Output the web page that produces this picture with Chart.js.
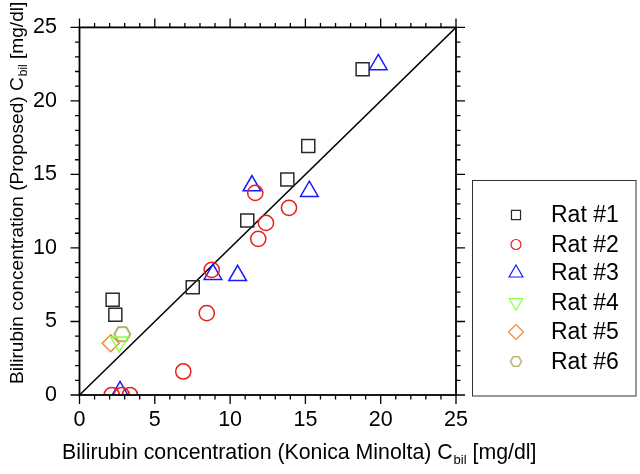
<!DOCTYPE html>
<html><head><meta charset="utf-8">
<script src="https://cdn.jsdelivr.net/npm/chart.js@4.4.1/dist/chart.umd.min.js"></script>
<style>html,body{margin:0;padding:0;background:#fff}#wrap{width:640px;height:474px}</style>
</head><body><div id="wrap"><canvas id="c" width="640" height="474"></canvas></div>
<script>
// ---- data ----
const seriesNames = ['Rat #1', 'Rat #2', 'Rat #3', 'Rat #4', 'Rat #5', 'Rat #6'];
const rat1X = [18.8, 15.19, 13.8, 11.14, 7.52, 2.2, 2.38];
const rat1Y = [22.16, 16.93, 14.66, 11.87, 7.32, 6.48, 5.46];
const rat2X = [11.67, 13.91, 12.38, 11.87, 8.78, 8.45, 6.89, 2.14, 2.8, 3.35];
const rat2Y = [13.74, 12.73, 11.7, 10.62, 8.51, 5.57, 1.6, 0, 0, 0];
const rat3X = [19.84, 15.26, 11.45, 8.86, 10.5, 2.69];
const rat3Y = [22.47, 13.85, 14.23, 8.21, 8.13, 0.23];
const rat4X = [2.64];
const rat4Y = [3.6];
const rat5X = [2.07];
const rat5Y = [3.52];
const rat6X = [2.84];
const rat6Y = [4.14];
const diagX = [0, 25];
const diagY = [0, 25];
const majorTicks = [0, 5, 10, 15, 20, 25];
const minorTicks = [1,2,3,4,6,7,8,9,11,12,13,14,16,17,18,19,21,22,23,24];
const xTitleMain = 'Bilirubin concentration (Konica Minolta) C';
const yTitleMain = 'Bilirubin concentration (Proposed) C';
const titleSub = 'bil';
const titleTail = ' [mg/dl]';

const FONT = '"Liberation Sans", Arial, sans-serif';
const pts = (xs, ys) => xs.map((x, i) => ({x, y: ys[i]}));

function makeHex(r, color, lw) {
  const s = Math.ceil(2 * r + lw + 2);
  const cv = document.createElement('canvas');
  cv.width = s; cv.height = s;
  const g = cv.getContext('2d');
  g.strokeStyle = color; g.lineWidth = lw;
  g.beginPath();
  for (let k = 0; k < 6; k++) {
    const a = Math.PI / 3 * k;
    const px = s / 2 + r * Math.cos(a), py = s / 2 + r * Math.sin(a);
    k ? g.lineTo(px, py) : g.moveTo(px, py);
  }
  g.closePath(); g.stroke();
  return cv;
}
const hexBig = makeHex(8, '#9a9a3c', 1.5);
const hexSmall = makeHex(5.5, '#9a9a3c', 1.2);

const styles = [
  {color: '#2a2a2a', pointStyle: 'rect', radius: 9.2, rotation: 0, legR: 6.4},
  {color: '#e8201c', pointStyle: 'circle', radius: 7.6, rotation: 0, legR: 5},
  {color: '#1a1aff', pointStyle: 'triangle', radius: 10.2, rotation: 0, legR: 8},
  {color: '#88ff44', pointStyle: 'triangle', radius: 10, rotation: 180, legR: 7.8},
  {color: '#f08a30', pointStyle: 'rectRot', radius: 8.5, rotation: 0, legR: 7.5},
  {color: '#9a9a3c', pointStyle: hexBig, radius: 8, rotation: 0, legR: 5.5, legStyle: hexSmall},
];
const seriesData = [pts(rat1X, rat1Y), pts(rat2X, rat2Y), pts(rat3X, rat3Y), pts(rat4X, rat4Y), pts(rat5X, rat5Y), pts(rat6X, rat6Y)];

const datasets = seriesData.map((d, i) => ({
  label: seriesNames[i],
  data: d,
  showLine: false,
  pointStyle: styles[i].pointStyle,
  pointRadius: styles[i].radius,
  pointRotation: styles[i].rotation,
  pointBorderColor: styles[i].color,
  pointBackgroundColor: 'rgba(0,0,0,0)',
  pointBorderWidth: 1.5,
  pointHoverRadius: styles[i].radius,
  clip: 0,
  order: 1,
}));
datasets.push({
  label: 'y=x',
  data: pts(diagX, diagY),
  showLine: true,
  borderColor: '#000',
  borderWidth: 1.5,
  pointRadius: 0,
  clip: 0,
  order: 2,
});

function drawRich(ctx, x, y, size, main) {
  ctx.font = size + 'px ' + FONT;
  ctx.fillText(main, x, y);
  let w = ctx.measureText(main).width;
  ctx.font = Math.round(size * 0.62) + 'px ' + FONT;
  ctx.fillText(titleSub, x + w + 1, y + size * 0.22);
  w += 1 + ctx.measureText(titleSub).width;
  ctx.font = size + 'px ' + FONT;
  ctx.fillText(titleTail, x + w, y);
  return w + ctx.measureText(titleTail).width;
}

const framePlugin = {
  id: 'frame',
  afterDatasetsDraw(chart) {
    const {ctx, chartArea: a, scales} = chart;
    const xs = scales.x, ys = scales.y;
    ctx.save();
    ctx.strokeStyle = '#000';
    ctx.lineWidth = 1.8;
    ctx.strokeRect(a.left, a.top, a.right - a.left, a.bottom - a.top);
    ctx.lineWidth = 1.3;
    ctx.beginPath();
    const tick = (v, len) => {
      const px = xs.getPixelForValue(v), py = ys.getPixelForValue(v);
      ctx.moveTo(px, a.bottom); ctx.lineTo(px, a.bottom + len);
      ctx.moveTo(px, a.top); ctx.lineTo(px, a.top - len);
      ctx.moveTo(a.left, py); ctx.lineTo(a.left - len, py);
      ctx.moveTo(a.right, py); ctx.lineTo(a.right + len, py);
    };
    majorTicks.forEach(v => tick(v, 9));
    minorTicks.forEach(v => tick(v, 4.5));
    ctx.stroke();

    // axis titles
    ctx.fillStyle = '#000';
    ctx.textBaseline = 'alphabetic';
    ctx.textAlign = 'left';
    drawRich(ctx, 62, 459, 21.3, xTitleMain);
    ctx.translate(23, 384);
    ctx.rotate(-Math.PI / 2);
    drawRich(ctx, 0, 0, 19.1, yTitleMain);
    ctx.restore();

    // legend
    ctx.save();
    ctx.strokeStyle = '#333';
    ctx.lineWidth = 1;
    ctx.strokeRect(472.5, 180.5, 163.5, 215.5);
    const rowY = [215, 244.5, 273, 302.5, 332, 361.5];
    ctx.font = '23px ' + FONT;
    ctx.fillStyle = '#000';
    ctx.textBaseline = 'middle';
    seriesNames.forEach((n, i) => {
      const s = styles[i];
      ctx.strokeStyle = s.color;
      ctx.fillStyle = 'rgba(0,0,0,0)';
      ctx.lineWidth = 1.2;
      Chart.helpers.drawPoint(ctx, {pointStyle: s.legStyle || s.pointStyle, radius: s.legR, rotation: s.rotation, borderWidth: 1.2}, 516, rowY[i]);
      ctx.fillStyle = '#000';
      ctx.fillText(n, 551, rowY[i] + 1);
    });
    ctx.restore();
  }
};

new Chart(document.getElementById('c'), {
  type: 'scatter',
  data: {datasets},
  options: {
    responsive: false,
    animation: false,
    devicePixelRatio: 1,
    layout: {padding: {left: 0, top: 16, right: 184, bottom: 0}},
    plugins: {legend: {display: false}, tooltip: {enabled: false}},
    scales: {
      x: {
        type: 'linear', min: 0, max: 25,
        afterFit: s => { s.height = 79; },
        grid: {display: false},
        border: {display: false},
        ticks: {stepSize: 5, color: '#000', font: {size: 21.5, family: FONT}, padding: 4, maxRotation: 0, autoSkip: false},
      },
      y: {
        type: 'linear', min: 0, max: 25,
        afterFit: s => { s.width = 79.5; },
        grid: {display: false},
        border: {display: false},
        ticks: {stepSize: 5, color: '#000', font: {size: 21.5, family: FONT}, padding: 14.5, autoSkip: false},
      }
    }
  },
  plugins: [framePlugin]
});
</script>
</body></html>
